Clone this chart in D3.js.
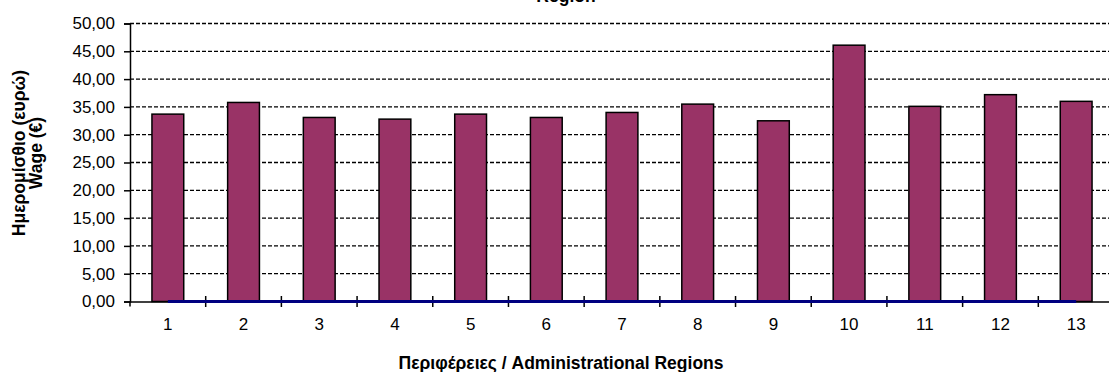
<!DOCTYPE html>
<html>
<head>
<meta charset="utf-8">
<script src="https://cdn.jsdelivr.net/npm/d3@7"></script>
<style>
  html, body { margin: 0; padding: 0; background: #fff; }
  svg { display: block; font-family: "Liberation Sans", Arial, sans-serif; }
</style>
</head>
<body>
<svg id="chart" width="1109" height="372"></svg>
<script>
// ---- data ----
const categories = ["1", "2", "3", "4", "5", "6", "7", "8", "9", "10", "11", "12", "13"];
const wages = [33.7, 35.8, 33.1, 32.8, 33.7, 33.1, 34.0, 35.5, 32.5, 46.1, 35.1, 37.2, 36.0];
const baselineSeries = [0, 0, 0, 0, 0, 0, 0, 0, 0, 0, 0, 0, 0];
const yTicks = [0, 5, 10, 15, 20, 25, 30, 35, 40, 45, 50];
const chartTitle = "Region";
const xTitle = "Περιφέρειες / Administrational Regions";
const yTitleLines = ["Ημερομίσθιο (ευρώ)", "Wage (€)"];

// ---- layout ----
const svg = d3.select("#chart");
const plotLeft = 130, plotRight = 1114, plotTop = 23.5, plotBottom = 301.5;

const x = d3.scaleBand().domain(categories).range([plotLeft, plotRight]).padding(0);
const y = d3.scaleLinear().domain([0, 50]).range([plotBottom, plotTop]);
const barW = x.bandwidth() * 0.42;

const locale = d3.formatLocale({ decimal: ",", thousands: ".", grouping: [3], currency: ["", "€"] });
const fmt = locale.format(".2f");

// gridlines
svg.append("g")
  .selectAll("line")
  .data(yTicks.filter(d => d > 0))
  .join("line")
  .attr("x1", plotLeft).attr("x2", 1109)
  .attr("y1", d => y(d)).attr("y2", d => y(d))
  .attr("stroke", "#000").attr("stroke-width", 1.3)
  .attr("stroke-dasharray", "4,2");

// y axis
const yAxis = svg.append("g")
  .attr("transform", `translate(${plotLeft},0)`)
  .call(d3.axisLeft(y).tickValues(yTicks).tickFormat(fmt).tickSize(6).tickPadding(9));
yAxis.select(".domain").attr("stroke", "#000").attr("stroke-width", 1.5);
yAxis.selectAll(".tick line").attr("stroke", "#000").attr("stroke-width", 1.5);
yAxis.selectAll(".tick text").attr("font-size", 17).attr("fill", "#000")
  .attr("font-family", "'Liberation Sans', Arial, sans-serif");

// bars
svg.append("g")
  .selectAll("rect")
  .data(wages)
  .join("rect")
  .attr("x", (d, i) => x(categories[i]) + (x.bandwidth() - barW) / 2)
  .attr("width", barW)
  .attr("y", d => y(d))
  .attr("height", d => y(0) - y(d))
  .attr("fill", "#993366")
  .attr("stroke", "#000")
  .attr("stroke-width", 1.5);

// x axis
const xAxis = svg.append("g")
  .attr("transform", `translate(0,${y(0)})`)
  .call(d3.axisBottom(x).tickSize(0).tickPadding(16));
xAxis.select(".domain").attr("stroke", "#000").attr("stroke-width", 1.5);
xAxis.selectAll(".tick text").attr("font-size", 17).attr("fill", "#000")
  .attr("font-family", "'Liberation Sans', Arial, sans-serif");

// crossing tick marks at category boundaries
svg.append("g")
  .selectAll("line")
  .data(categories)
  .join("line")
  .attr("x1", d => x(d) + x.bandwidth()).attr("x2", d => x(d) + x.bandwidth())
  .attr("y1", y(0) - 5.5).attr("y2", y(0) + 5.5)
  .attr("stroke", "#000").attr("stroke-width", 1.5);
svg.append("line")
  .attr("x1", plotLeft).attr("x2", plotLeft)
  .attr("y1", y(0)).attr("y2", y(0) + 5)
  .attr("stroke", "#000").attr("stroke-width", 1.5);

// line series at zero
const line = d3.line()
  .x((d, i) => x(categories[i]) + x.bandwidth() / 2)
  .y(d => y(d));
svg.append("path")
  .datum(baselineSeries)
  .attr("d", line)
  .attr("fill", "none")
  .attr("stroke", "#000080")
  .attr("stroke-width", 3);

// titles
svg.append("text")
  .attr("x", 566).attr("y", 2)
  .attr("text-anchor", "middle")
  .attr("font-size", 17.5).attr("font-weight", "bold")
  .text(chartTitle);

svg.append("text")
  .attr("x", 561).attr("y", 369)
  .attr("text-anchor", "middle")
  .attr("font-size", 17.5).attr("font-weight", "bold")
  .text(xTitle);

const yt = svg.append("text")
  .attr("transform", "rotate(-90)")
  .attr("text-anchor", "middle")
  .attr("font-size", 17.5).attr("font-weight", "bold");
yt.selectAll("tspan")
  .data(yTitleLines)
  .join("tspan")
  .attr("x", -153)
  .attr("y", (d, i) => i === 0 ? 25 : 41.5)
  .text(d => d);
</script>
</body>
</html>
